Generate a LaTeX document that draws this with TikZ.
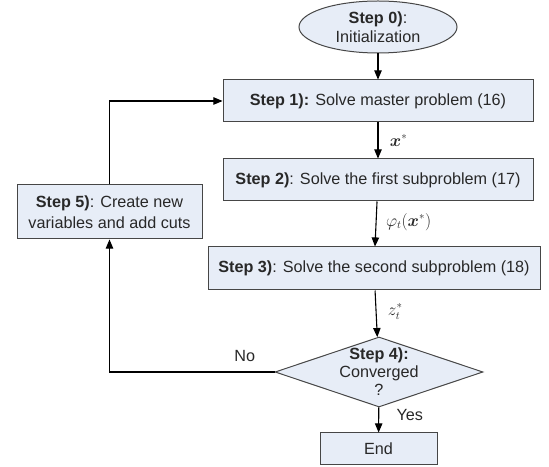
\documentclass[tikz,border=0pt]{standalone}
\usepackage{amsmath,amssymb}
\usepackage{bm}
\usepackage{fontspec}
\setmainfont{Liberation Sans}
\usepackage{xcolor}
\usetikzlibrary{shapes.geometric}
\usetikzlibrary{arrows}

\definecolor{stepfill}{RGB}{231,237,247}
\definecolor{stepline}{RGB}{70,70,70}
\definecolor{steptext}{RGB}{40,40,40}

\begin{document}
\begin{tikzpicture}[x=1pt, y=1pt,
        every node/.style={text=steptext, font=\fontsize{16.2}{19}\selectfont},
        stepbox/.style={draw=stepline, fill=stepfill, line width=1pt, rectangle, align=center},
        flow/.style={->, >=triangle 45, line width=1.1pt},
        mathlabel/.style={font=\fontsize{16}{18}\selectfont}]
        \useasboundingbox (0, 0) rectangle (549, 466);

        \node[stepbox, ellipse, minimum width=158pt, minimum height=52pt, inner sep=0pt]
            (init) at (378, 439) {\textbf{Step 0)}:\\Initialization};
        \node[stepbox, minimum width=310pt, minimum height=42pt]
            (master) at (378, 365) {\textbf{Step 1):} Solve master problem (16)};
        \node[stepbox, minimum width=310pt, minimum height=42pt]
            (first) at (378, 286) {\textbf{Step 2)}: Solve the first subproblem (17)};
        \node[stepbox, minimum width=332pt, minimum height=43pt]
            (second) at (374, 197.5) {\textbf{Step 3)}: Solve the second subproblem (18)};
        \node[stepbox, diamond, aspect=3, minimum width=208pt, minimum height=70pt, inner sep=-6pt]
            (conv) at (379, 94) {\textbf{Step 4):}\\[-1pt]Converged\\[-1pt]?};
        \node[stepbox, minimum width=117pt, minimum height=31pt]
            (stop) at (378.5, 17.5) {End};
        \node[stepbox, minimum width=185pt, minimum height=54pt]
            (cuts) at (109.5, 254) {\textbf{Step 5)}: Create new\\[2pt]variables and add cuts};

        \draw[flow] (init) -- (master);
        \draw[flow] (master) -- (first)
            node[pos=0.5, right=8pt, mathlabel] (xs) {$\bm{x}^{*}$};
        \draw[flow] (first) -- (second)
            node[pos=0.45, right=6pt, mathlabel] (phi) {$\varphi_{t}(\bm{x}^{*})$};
        \draw[flow] (second) -- (conv)
            node[pos=0.45, right=8pt, mathlabel] (zs) {$z_{t}^{*}$};
        \draw[flow] (conv) -- (stop)
            node[pos=0.3, right=14pt] (yes) {Yes};
        \draw[flow] (conv.west) -| (cuts)
            node[pos=0.09, above=6pt] (no) {No};
        \draw[flow] (cuts) |- (master);
    \end{tikzpicture}
\end{document}
